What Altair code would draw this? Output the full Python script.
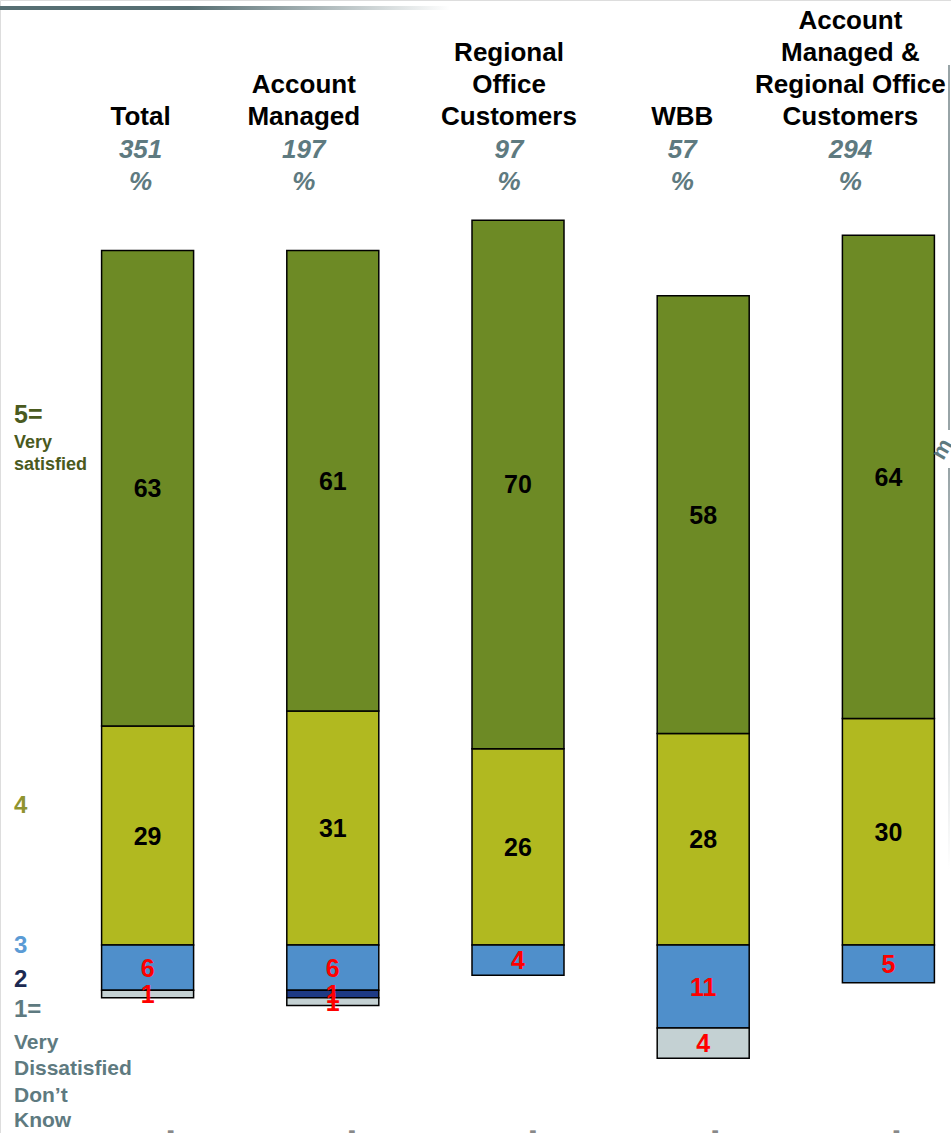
import altair as alt
import pandas as pd

# ---------------- data ----------------
categories = ["Total", "Account Managed", "Regional Office Customers", "WBB",
              "Account Managed & Regional Office Customers"]
header_lines = [["Total"], ["Account", "Managed"], ["Regional", "Office", "Customers"],
                ["WBB"], ["Account", "Managed &", "Regional Office", "Customers"]]
base_n = [351, 197, 97, 57, 294]
score5 = [63, 61, 70, 58, 64]   # 5 = very satisfied
score4 = [29, 31, 26, 28, 30]   # 4
score3 = [6, 6, 4, 11, 5]       # 3
score2 = [0, 1, 0, 0, 0]        # 2
score1 = [1, 1, 0, 4, 0]        # 1 / don't know

# ---------------- styles ----------------
level_colors = {"5": "#6D8A25", "4": "#B1B920", "3": "#4F8FCB", "2": "#1E3A85", "1": "#C4D1D3"}
label_colors = {"5": "#000000", "4": "#000000", "3": "#FF0000", "2": "#FF0000", "1": "#FF0000"}
header_dx = [-7, -29, -9, -21, -38]
dash_dx = [23, 19, 15, 12, 8]
FONT = "Liberation Sans"
W, H = 951, 1133

rows = []
for i, c in enumerate(categories):
    lo = 0
    for lvl, v in (("4", score4[i]), ("5", score5[i])):
        if v > 0:
            rows.append(dict(cat=c, level=lvl, y0=lo, y1=lo + v, mid=lo + v / 2, val=v,
                             fill=level_colors[lvl], tc=label_colors[lvl]))
            lo += v
    lo = 0
    for lvl, v in (("3", score3[i]), ("2", score2[i]), ("1", score1[i])):
        if v > 0:
            rows.append(dict(cat=c, level=lvl, y0=lo, y1=lo - v, mid=lo - v / 2, val=v,
                             fill=level_colors[lvl], tc=label_colors[lvl]))
            lo -= v
seg = pd.DataFrame(rows)

xscale = alt.Scale(domain=categories, range=[55, 981], paddingInner=0, paddingOuter=0)
yscale = alt.Scale(domain=[-24.9, 125.166], range=[H, 0], nice=False, zero=False)

X = alt.X("cat:N", scale=xscale, axis=None, sort=categories)

bars = alt.Chart(seg).mark_bar(width=92, stroke="#000000", strokeWidth=1.5).encode(
    x=X,
    y=alt.Y("y0:Q", scale=yscale, axis=None),
    y2="y1:Q",
    fill=alt.Fill("fill:N", scale=None),
)

labels = alt.Chart(seg).mark_text(font=FONT, fontSize=25, fontWeight="bold",
                                  baseline="middle", align="center", dy=1).encode(
    x=X,
    y=alt.Y("mid:Q", scale=yscale, axis=None),
    text="val:Q",
    color=alt.Color("tc:N", scale=None),
)

layers = [bars, labels]

one = pd.DataFrame({"a": [0]})

# top gradient rule
layers.append(alt.Chart(one).mark_rect(color=alt.LinearGradient(
    gradient="linear",
    stops=[alt.GradientStop(color="#566E72", offset=0),
           alt.GradientStop(color="#566E72", offset=0.42),
           alt.GradientStop(color="#FFFFFF", offset=1)],
    x1=0, x2=1, y1=0, y2=0)).encode(
    x=alt.value(0), x2=alt.value(450), y=alt.value(6), y2=alt.value(10)))

# right edge line with rotated letter
layers.append(alt.Chart(one).mark_rect(color="#98A4A7").encode(
    x=alt.value(948), x2=alt.value(950), y=alt.value(65), y2=alt.value(430)))
layers.append(alt.Chart(one).mark_rect(color=alt.LinearGradient(
    gradient="linear",
    stops=[alt.GradientStop(color="#98A4A7", offset=0),
           alt.GradientStop(color="#FFFFFF", offset=1)],
    x1=0, x2=0, y1=0, y2=1)).encode(
    x=alt.value(948), x2=alt.value(950), y=alt.value(468), y2=alt.value(870)))
layers.append(alt.Chart(pd.DataFrame({"t": ["m"]})).mark_text(
    font=FONT, fontSize=22, fontWeight="bold", color="#5E7A80", angle=300,
    align="center", baseline="middle").encode(
    x=alt.value(942), y=alt.value(449), text="t:N"))

# headers
for i, c in enumerate(categories):
    lines = header_lines[i]
    for k, line in enumerate(reversed(lines)):
        layers.append(alt.Chart(pd.DataFrame({"cat": [c], "t": [line]})).mark_text(
            font=FONT, fontSize=26, fontWeight="bold", color="#000000",
            align="center", baseline="alphabetic", dx=header_dx[i]).encode(
            x=X, y=alt.value(125 - 32 * k), text="t:N"))
    layers.append(alt.Chart(pd.DataFrame({"cat": [c], "t": [str(base_n[i])]})).mark_text(
        font=FONT, fontSize=26, fontWeight="bold", fontStyle="italic", color="#5E7A80",
        align="center", baseline="alphabetic", dx=header_dx[i]).encode(
        x=X, y=alt.value(158), text="t:N"))
    layers.append(alt.Chart(pd.DataFrame({"cat": [c], "t": ["%"]})).mark_text(
        font=FONT, fontSize=26, fontWeight="bold", fontStyle="italic", color="#5E7A80",
        align="center", baseline="alphabetic", dx=header_dx[i]).encode(
        x=X, y=alt.value(190), text="t:N"))
    layers.append(alt.Chart(pd.DataFrame({"cat": [c], "t": ["-"]})).mark_text(
        font=FONT, fontSize=22, fontWeight="bold", color="#888888",
        align="center", baseline="alphabetic", dx=dash_dx[i]).encode(
        x=X, y=alt.value(1137), text="t:N"))

# left legend
legend_items = [
    ("5=", 423, 25, "#4A5A1E"), ("Very", 448, 18, "#4A5A1E"), ("satisfied", 470, 18, "#4A5A1E"),
    ("4", 813, 24, "#8F9430"), ("3", 953, 24, "#5B9BD5"), ("2", 987, 24, "#1C2A52"),
    ("1=", 1017, 24, "#5E7A80"), ("Very", 1049, 21, "#5E7A80"),
    ("Dissatisfied", 1075, 21, "#5E7A80"), ("Don\u2019t", 1102, 21, "#5E7A80"),
    ("Know", 1127, 21, "#5E7A80"),
]
for t, yb, fs, col in legend_items:
    layers.append(alt.Chart(pd.DataFrame({"t": [t]})).mark_text(
        font=FONT, fontSize=fs, fontWeight="bold", color=col,
        align="left", baseline="alphabetic").encode(
        x=alt.value(14), y=alt.value(yb), text="t:N"))

chart = alt.layer(*layers).properties(
    width=W, height=H, padding=0, autosize=alt.AutoSizeParams(type="none")
).configure_view(stroke=None).configure(background="#FFFFFF")

chart.save("out.html", embed_options={"renderer": "svg", "actions": False})
